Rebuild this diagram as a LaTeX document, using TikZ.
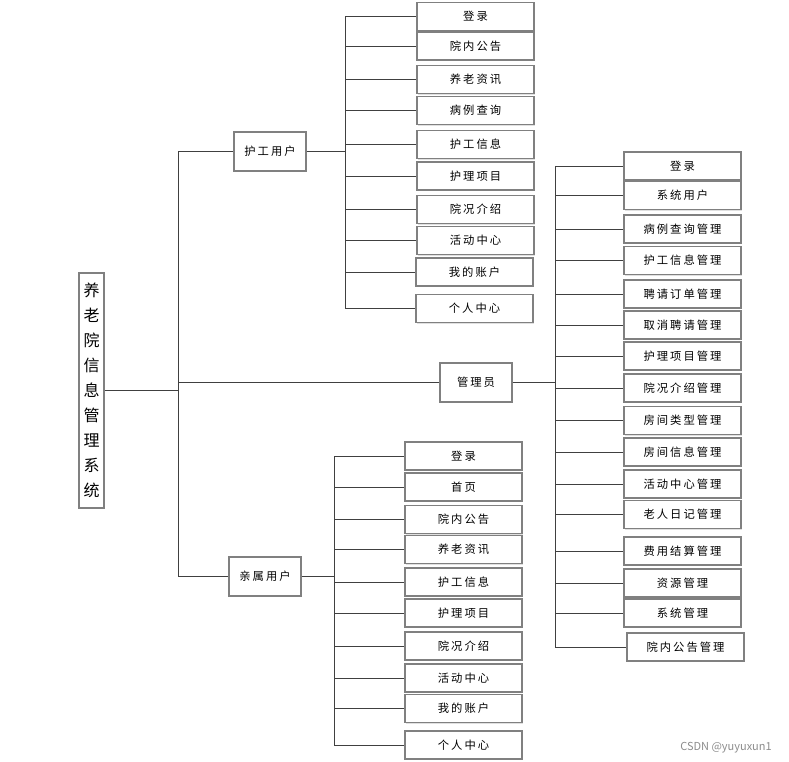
\documentclass[tikz,border=0pt]{standalone}
\usepackage{fontspec}
\newfontfamily\cjk[LetterSpace=18]{Noto Sans CJK SC}
\newfontfamily\cjkroot{Noto Sans CJK SC}
\usepackage{tikz}
\usetikzlibrary{shadows}

\begin{document}
\begin{tikzpicture}[
    x=1pt, y=-1pt,
    box/.style={draw=black!50, line width=1.1pt, fill=white, inner sep=0pt,
        drop shadow={shadow xshift=1.2pt, shadow yshift=-1.2pt, fill=black!20, opacity=0.6},
        font=\cjk\fontsize{11.3}{13}\selectfont},
    leaf/.style={box, minimum width=117, minimum height=28},
    role/.style={box, minimum width=72, minimum height=39},
    link/.style={draw=black!75, line width=0.8pt}
]
    \useasboundingbox (0,0) rectangle (789,762);

    % root and roles
    \node[box, minimum width=25, minimum height=235, align=center,
          font=\cjkroot\fontsize{16}{25}\selectfont] (root) at (91.5,390.5)
          {养\\老\\院\\信\\息\\管\\理\\系\\统};
    \node[role] (nurse) at (270,151.5) {护工用户};
    \node[role] (admin) at (476,382.5) {管理员};
    \node[role] (rel) at (265,576.5) {亲属用户};

    % nurse user functions
    \node[leaf] (n1) at (475.5,16.5) {登录};
    \node[leaf] (n2) at (475.5,46) {院内公告};
    \node[leaf] (n3) at (475.5,79.5) {养老资讯};
    \node[leaf] (n4) at (475.5,110.5) {病例查询};
    \node[leaf] (n5) at (475.5,144.5) {护工信息};
    \node[leaf] (n6) at (475.5,176) {护理项目};
    \node[leaf] (n7) at (475.5,209.5) {院况介绍};
    \node[leaf] (n8) at (475.5,240.5) {活动中心};
    \node[leaf] (n9) at (474.5,272) {我的账户};
    \node[leaf] (n10) at (474.5,308.5) {个人中心};

    % admin functions
    \node[leaf] (a1) at (682.5,166) {登录};
    \node[leaf] (a2) at (682.5,195.5) {系统用户};
    \node[leaf] (a3) at (682.5,229) {病例查询管理};
    \node[leaf] (a4) at (682.5,260.5) {护工信息管理};
    \node[leaf] (a5) at (682.5,294) {聘请订单管理};
    \node[leaf] (a6) at (682.5,325) {取消聘请管理};
    \node[leaf] (a7) at (682.5,356) {护理项目管理};
    \node[leaf] (a8) at (682.5,388) {院况介绍管理};
    \node[leaf] (a9) at (682.5,420.5) {房间类型管理};
    \node[leaf] (a10) at (682.5,452) {房间信息管理};
    \node[leaf] (a11) at (682.5,484) {活动中心管理};
    \node[leaf] (a12) at (682.5,514.5) {老人日记管理};
    \node[leaf] (a13) at (682.5,551) {费用结算管理};
    \node[leaf] (a14) at (682.5,583) {资源管理};
    \node[leaf] (a15) at (682.5,613) {系统管理};
    \node[leaf] (a16) at (685.5,647) {院内公告管理};

    % relative user functions
    \node[leaf] (r1) at (463.5,456) {登录};
    \node[leaf] (r2) at (463.5,487) {首页};
    \node[leaf] (r3) at (463.5,519.5) {院内公告};
    \node[leaf] (r4) at (463.5,549.5) {养老资讯};
    \node[leaf] (r5) at (463.5,582) {护工信息};
    \node[leaf] (r6) at (463.5,613) {护理项目};
    \node[leaf] (r7) at (463.5,646) {院况介绍};
    \node[leaf] (r8) at (463.5,678) {活动中心};
    \node[leaf] (r9) at (463.5,708.5) {我的账户};
    \node[leaf] (r10) at (463.5,745) {个人中心};

    % branch points
    \coordinate (mt) at (178,390.5);
    \coordinate (nb) at (345,151.5);
    \coordinate (ab) at (555,382.5);
    \coordinate (rb) at (334,576.5);

    % main tree
    \draw[link] (root) -- (mt);
    \draw[link] (mt |- nurse.west) -- (mt |- rel.west);
    \draw[link] (mt |- nurse.west) -- (nurse);
    \draw[link] (mt |- admin.west) -- (admin);
    \draw[link] (mt |- rel.west) -- (rel);

    % nurse branch
    \draw[link] (nurse) -- (nb);
    \draw[link] (nb |- n1.west) -- (nb |- n10.west);
    \foreach \n in {n1,n2,n3,n4,n5,n6,n7,n8,n9,n10}
        \draw[link] (nb |- \n.west) -- (\n);

    % admin branch
    \draw[link] (admin) -- (ab);
    \draw[link] (ab |- a1.west) -- (ab |- a16.west);
    \foreach \n in {a1,a2,a3,a4,a5,a6,a7,a8,a9,a10,a11,a12,a13,a14,a15,a16}
        \draw[link] (ab |- \n.west) -- (\n);

    % relative branch
    \draw[link] (rel) -- (rb);
    \draw[link] (rb |- r1.west) -- (rb |- r10.west);
    \foreach \n in {r1,r2,r3,r4,r5,r6,r7,r8,r9,r10}
        \draw[link] (rb |- \n.west) -- (\n);

    \node[text=black!45, font=\cjkroot\fontsize{11}{13}\selectfont] (mark) at (726,748) {CSDN @yuyuxun1};
\end{tikzpicture}
\end{document}
